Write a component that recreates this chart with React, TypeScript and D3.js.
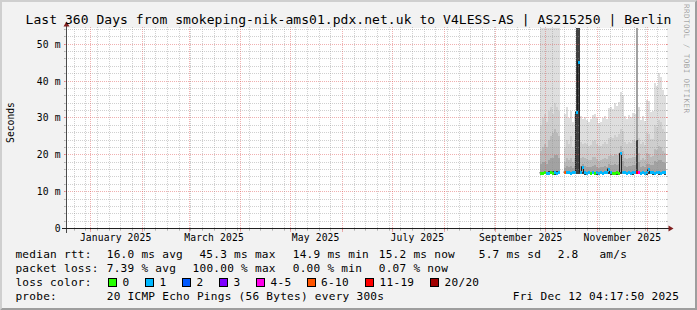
import React from 'react';
import * as d3 from 'd3';

// ---------------- data ----------------
const titleText = 'Last 360 Days from smokeping-nik-ams01.pdx.net.uk to V4LESS-AS | AS215250 | Berlin';
const yAxisTitle = 'Seconds';
const watermarkText = 'RRDTOOL / TOBI OETIKER';

const graphEnd = new Date(2025, 11, 12, 4, 17, 50);
const graphDays = 360;
const yTop = 54.27; // ms
const yMajorTicks = [0, 10, 20, 30, 40, 50];
const yMajorLabels = ['0', '10 m', '20 m', '30 m', '40 m', '50 m'];
const yMinorStep = 2;

const firstSample = new Date(2025, 8, 27, 13, 54);
const sampleStepDays = 1.2;

const medianMs = [
  15.1, 15.1, 15.2, 15.1, 15.1, 15.2, 15.1, 15.2, 15.1, 15.2,
  NaN, NaN, 15.3, 15.2, 15.2, 15.1, 15.2, 15.2, 31.7, 45.3,
  15.3, 16.8, 15.2, 15.1, 15.2, 15.1, 15.2, 15.1, 15.2, 15.1,
  15.2, 15.1, 15.2, 15.2, 16.2, 15.2, 15.1, 15.1, 15.2, 15.1,
  20.4, 15.2, 15.2, 15.1, 15.2, 15.1, 15.2, 15.2, 15.3, 15.2,
  15.1, 15.2, 15.1, 15.2, 16.1, 15.2, 15.2, 15.1, 15.2, 15.2,
  15.1, 15.2, 15.2,
];

const lossCount = [
  0, 0, 0, 1, 1, 0, 0, 1, 1, 1,
  NaN, NaN, 8, 1, 1, 1, 1, 1, 1, 1,
  1, 1, 1, 1, 1, 0, 1, 0, 1, 1,
  1, 1, 1, 1, 1, 1, 0, 0, 0, 0,
  1, 1, 1, 1, 1, 1, 1, 1, 15, 4,
  1, 1, 1, 1, 1, 1, 1, 1, 1, 1,
  1, 1, 1,
];

const smokeLow = [
  14.7, 14.6, 14.7, 14.7, 14.6, 14.7, 14.7, 14.6, 14.7, 14.7,
  NaN, NaN, 14.8, 14.7, 14.7, 14.6, 14.7, 14.7, 14.8, 14.9,
  14.7, 14.7, 14.6, 14.7, 14.7, 14.6, 14.7, 14.7, 14.6, 14.7,
  14.7, 14.6, 14.7, 14.7, 14.7, 14.6, 14.7, 14.7, 14.6, 14.7,
  14.8, 14.7, 14.7, 14.6, 14.7, 14.7, 14.6, 14.7, 14.8, 14.7,
  14.6, 14.7, 14.7, 14.6, 14.7, 14.7, 14.6, 14.7, 14.7, 14.6,
  14.7, 14.7, 14.6,
];

const smokeOuter = [
  60, 60, 60, 60, 60, 60, 60, 60, 60, 60,
  NaN, NaN, 31, 33, 30, 32, 29, 31, 60, 60,
  30.5, 29.8, 30.3, 29.4, 29.0, 29.6, 30.8, 31.2, 30.0, 28.6,
  28.9, 30.0, 30.4, 29.8, 32.7, 33.0, 32.4, 34.0, 33.2, 34.3,
  37.0, 36.2, 30.4, 29.6, 30.8, 30.2, 31.4, 31.0, 60, 33.0,
  29.4, 30.5, 29.2, 34.9, 34.6, 31.6, 32.0, 39.5, 38.6, 42.2,
  41.0, 37.6, 36.2,
];

const smokeUpper = [
  28, 30, 31, 29, 32, 33, 31, 34, 33, 32,
  NaN, NaN, 22, 24, 23, 25, 22, 24, 60, 60,
  23.5, 23, 23.2, 22.8, 22.5, 22.7, 23.8, 24, 23, 22.3,
  22.4, 23, 23.4, 22.9, 24.6, 24.8, 24.5, 25.3, 24.9, 25.6,
  27, 26.5, 23.4, 23, 23.6, 23.3, 24, 23.7, 60, 24.5,
  22.8, 23.4, 22.7, 25.8, 25.6, 24.2, 24.3, 28, 27.5, 29.5,
  28.8, 27, 26.3,
];

const smokeMiddle = [
  21, 22, 23, 22, 24, 25, 26, 27, 26, 25,
  NaN, NaN, 18, 19, 18.5, 19, 18, 19, 60, 60,
  19.2, 19.5, 19, 18.8, 18.6, 18.7, 19.3, 19.4, 18.9, 18.4,
  18.5, 18.9, 19.1, 18.8, 19.8, 19.9, 19.6, 20.2, 19.9, 20.4,
  22.5, 21, 19.1, 18.8, 19.2, 19, 19.4, 19.3, 60, 20.5,
  18.7, 19, 18.6, 20.4, 20.3, 19.5, 19.6, 21.5, 21.2, 22.3,
  22, 21, 20.6,
];

const smokeInner = [
  17.5, 18, 18, 17.5, 18.5, 19, 19, 20, 20, 19,
  NaN, NaN, 16.5, 17, 16.8, 17, 16.5, 17, 60, 60,
  17, 17.6, 16.9, 16.8, 16.7, 16.7, 17, 17.1, 16.8, 16.5,
  16.6, 16.8, 17, 16.8, 17.4, 17.3, 17.1, 17.4, 17.3, 17.5,
  20.8, 18.3, 17, 16.8, 17, 16.9, 17.1, 17.1, 60, 18,
  16.7, 16.9, 16.6, 17.6, 17.5, 17.2, 17.2, 18.2, 18, 18.6,
  18.5, 18, 17.8,
];

const smokeCore = [
  15.4, 15.4, 15.4, 15.4, 15.5, 15.5, 15.5, 15.6, 15.6, 15.5,
  NaN, NaN, 15.4, 15.4, 15.4, 15.4, 15.4, 15.4, 60, 60,
  15.4, 15.4, 15.4, 15.4, 15.4, 15.4, 15.4, 15.4, 15.4, 15.4,
  15.4, 15.4, 15.4, 15.4, 15.4, 15.4, 15.4, 15.4, 15.4, 15.4,
  15.4, 15.4, 15.4, 15.4, 15.4, 15.4, 15.4, 15.4, 24, 15.6,
  15.4, 15.4, 15.4, 15.4, 15.4, 15.4, 15.4, 15.4, 15.4, 15.4,
  15.4, 15.4, 15.4,
];

const lossLabels = ['0', '1', '2', '3', '4-5', '6-10', '11-19', '20/20'];
const lossUpper = [0, 1, 2, 3, 5, 10, 19, 20];

const rttLabel = 'median rtt:';
const rttValues = ['16.0 ms avg', '45.3 ms max', '14.9 ms min', '15.2 ms now', '5.7 ms sd', '2.8', 'am/s'];
const lossLabel = 'packet loss:';
const lossValues = ['7.39 % avg', '100.00 % max', '0.00 % min', '0.07 % now'];
const colorLabel = 'loss color:';
const probeLabel = 'probe:';
const probeText = '20 ICMP Echo Pings (56 Bytes) every 300s';
const stampText = 'Fri Dec 12 04:17:50 2025';

// ---------------- styles / layout ----------------
const lossColors = ['#26ff00', '#00b8ff', '#0059ff', '#7e00ff', '#ff00ea', '#ff5500', '#ff0000', '#a10000'];
const smokeColors = ['#dedede', '#cecece', '#bababa', '#a2a2a2', '#404040'];
const MONO = "'DejaVu Sans Mono', monospace";
const rttCols = [106.7, 199.4, 292.7, 378.7, 478.7, 557.7, 599.4];
const lossCols = [106.7, 192.5, 292.7, 378.7];
const legendLeft = 15.4;
const legendBoxX = [108, 145, 182, 219, 256, 306.5, 365, 430];

export default function App() {
  const W = 697, H = 310;
  const X0 = 66, X1 = 666, Y0 = 228.5, Y1 = 28.5;
  const DAY = 86400000;
  const start = new Date(graphEnd.getTime() - graphDays * DAY);

  const x = d3.scaleTime().domain([start, graphEnd]).range([X0, X1]);
  const y = d3.scaleLinear().domain([0, yTop]).range([Y0, Y1]);
  const px = (v: number) => Math.floor(v) + 0.5;

  const n = medianMs.length;
  const times = d3.range(n + 1).map((i) => new Date(firstSample.getTime() + i * sampleStepDays * DAY));
  const colX0 = (i: number) => Math.round(x(times[i]));
  const colX1 = (i: number) => Math.round(x(times[i + 1]));

  const smokeLayers = [smokeOuter, smokeUpper, smokeMiddle, smokeInner, smokeCore];

  const lossColor = (c: number) => {
    const k = lossUpper.findIndex((u) => c <= u);
    return lossColors[k < 0 ? lossColors.length - 1 : k];
  };

  const medPts: ([number, number] | null)[] = [];
  for (let i = 0; i < n; i++) {
    if (isNaN(medianMs[i])) { medPts.push(null); continue; }
    const yy = y(medianMs[i]);
    medPts.push([colX0(i) - 0.5, yy], [colX1(i) - 0.5, yy]);
  }
  const medLine = d3.line<[number, number] | null>()
    .defined((p) => p !== null)
    .x((p) => (p as [number, number])[0])
    .y((p) => (p as [number, number])[1]);

  const months = d3.timeMonth.range(d3.timeMonth.ceil(start), graphEnd);
  const monthSet = new Set(months.map((m) => +m));
  const weeks = d3.timeSunday.range(start, graphEnd).filter((w) => !monthSet.has(+w));
  const fmt = d3.timeFormat('%B %Y');
  const labelMonths = d3.timeMonth.every(2)!.range(d3.timeMonth.floor(start), graphEnd)
    .map((m) => ({ m, c: x(d3.timeDay.offset(m, 15)) }))
    .filter((d) => d.c > X0 && d.c < X1);
  const hMinor = d3.range(yMinorStep, yTop, yMinorStep).filter((v) => v % 10 !== 0);
  const hMajor = yMajorTicks.filter((v) => v > 0);

  const gridGrey = 'rgba(143,143,143,0.42)';
  const gridRed = 'rgba(222,79,79,0.45)';

  return (
    <svg width={W} height={H} viewBox={`0 0 ${W} ${H}`}
      style={{ position: 'absolute', left: 0, top: 0, display: 'block' }}
      fontFamily={MONO}>
      <defs>
        <clipPath id="cv"><rect x={X0} y={Y1 - 0.5} width={X1 - X0 + 1} height={Y0 - Y1 + 0.5} /></clipPath>
      </defs>
      <rect x={0} y={0} width={W} height={H} fill="#f2f2f2" />
      <polygon points={`0,0 ${W},0 ${W - 2},2 2,2 2,${H - 2} 0,${H}`} fill="#cfcfcf" />
      <polygon points={`0,${H} ${W},${H} ${W},0 ${W - 2},2 ${W - 2},${H - 2} 2,${H - 2}`} fill="#9e9e9e" />

      <rect x={X0} y={Y1 - 0.5} width={X1 - X0 + 1} height={Y0 - Y1 + 0.5} fill="#ffffff" />

      {/* smoke */}
      <g clipPath="url(#cv)" shapeRendering="crispEdges">
        {smokeLayers.map((layer, k) => (
          <g key={k} fill={smokeColors[k]}>
            {layer.map((v, i) => {
              if (isNaN(v) || isNaN(smokeLow[i])) return null;
              const yt = y(v), yb = y(smokeLow[i]);
              return <rect key={i} x={colX0(i)} width={colX1(i) - colX0(i)} y={yt} height={Math.max(0, yb - yt)} />;
            })}
          </g>
        ))}
      </g>

      {/* median */}
      <g clipPath="url(#cv)">
        <path d={medLine(medPts) || ''} fill="none" stroke="#202020" strokeWidth={1} />
        <g shapeRendering="crispEdges">
          {medianMs.map((v, i) => {
            if (isNaN(v)) return null;
            const yy = y(v);
            return <rect key={i} x={colX0(i)} width={colX1(i) - colX0(i)} y={Math.round(yy) - 1.5} height={3}
              fill={lossColor(lossCount[i])} />;
          })}
        </g>
      </g>

      {/* grid */}
      <g shapeRendering="crispEdges">
        {hMinor.map((v) => {
          const yy = px(y(v));
          return (
            <g key={'hm' + v} stroke={gridGrey}>
              <line x1={X0 - 2} x2={X1 + 2} y1={yy} y2={yy} strokeDasharray="1 1" />
              <line x1={X0 - 2} x2={X0} y1={yy} y2={yy} />
              <line x1={X1} x2={X1 + 2} y1={yy} y2={yy} />
            </g>
          );
        })}
        {hMajor.map((v) => {
          const yy = px(y(v));
          return (
            <g key={'hM' + v} stroke={gridRed}>
              <line x1={X0 - 2} x2={X1 + 2} y1={yy} y2={yy} strokeDasharray="1 1" />
              <line x1={X0 - 2} x2={X0} y1={yy} y2={yy} />
              <line x1={X1} x2={X1 + 2} y1={yy} y2={yy} />
            </g>
          );
        })}
        {weeks.map((w) => {
          const xx = px(x(w));
          return (
            <g key={'vw' + +w} stroke={gridGrey}>
              <line x1={xx} x2={xx} y1={Y1 - 2} y2={Y0 + 2} strokeDasharray="1 1" />
              <line x1={xx} x2={xx} y1={Y0} y2={Y0 + 2} />
            </g>
          );
        })}
        {months.map((m) => {
          const xx = px(x(m));
          return (
            <g key={'vm' + +m} stroke={gridRed}>
              <line x1={xx} x2={xx} y1={Y1 - 2} y2={Y0 + 2} strokeDasharray="1 1" />
              <line x1={xx} x2={xx} y1={Y0} y2={Y0 + 3} />
            </g>
          );
        })}
      </g>

      {/* axes */}
      <g shapeRendering="crispEdges">
        <line x1={X0 - 4} x2={X1 + 4} y1={Y0} y2={Y0} stroke="#1f1f1f" />
        <line x1={X0 + 0.5} x2={X0 + 0.5} y1={Y0 + 4} y2={Y1 - 4} stroke="#1f1f1f" strokeOpacity={0.8} />
      </g>
      <polygon points={`${X1 + 2.5},${Y0 - 3} ${X1 + 2.5},${Y0 + 3} ${X1 + 7.5},${Y0}`} fill="#801f1f" />
      <polygon points={`${X0 - 2.5},${Y1 - 2} ${X0 + 3.5},${Y1 - 2} ${X0 + 0.5},${Y1 - 7}`} fill="#801f1f" />

      <g fontSize={9.7} style={{ letterSpacing: '0.13px' }} fill="#000" textAnchor="end">
        {yMajorTicks.map((v, i) => (
          <text key={v} x={60.7} y={px(y(v)) + 3.3}>{yMajorLabels[i]}</text>
        ))}
      </g>
      <g fontSize={9.7} style={{ letterSpacing: '0.13px' }} fill="#000" textAnchor="middle">
        {labelMonths.map((d) => (
          <text key={+d.m} x={d.c} y={240.5}>{fmt(d.m)}</text>
        ))}
      </g>

      <text x={W / 2} y={24} fontSize={13} textAnchor="middle" style={{ letterSpacing: '0.05px' }} fill="#000">{titleText}</text>
      <text transform="translate(14,122.5) rotate(-90)" fontSize={9.7} textAnchor="middle" fill="#000">{yAxisTitle}</text>
      <text transform="translate(684,4) rotate(90)" fontSize={7.6} style={{ letterSpacing: '0.4px' }} fill="#000" fillOpacity={0.35}>{watermarkText}</text>

      <g fontSize={11.1} style={{ letterSpacing: '0.26px' }} fill="#000">
        <text x={legendLeft} y={258}>{rttLabel}</text>
        {rttValues.map((t, i) => (
          <text key={'r' + i} x={rttCols[i]} y={258}>{t}</text>
        ))}
        <text x={legendLeft} y={272}>{lossLabel}</text>
        {lossValues.map((t, i) => (
          <text key={'l' + i} x={lossCols[i]} y={272}>{t}</text>
        ))}
        <text x={legendLeft} y={286}>{colorLabel}</text>
        {lossLabels.map((t, i) => (
          <g key={'c' + i}>
            <rect x={legendBoxX[i] + 0.5} y={278.5} width={8} height={8} fill={lossColors[i]} stroke="#000" strokeWidth={1} shapeRendering="crispEdges" />
            <text x={legendBoxX[i] + 14.6} y={286}>{t}</text>
          </g>
        ))}
        <text x={legendLeft} y={300}>{probeLabel}</text>
        <text x={rttCols[0]} y={300}>{probeText}</text>
        <text x={512.7} y={300}>{stampText}</text>
      </g>
    </svg>
  );
}
